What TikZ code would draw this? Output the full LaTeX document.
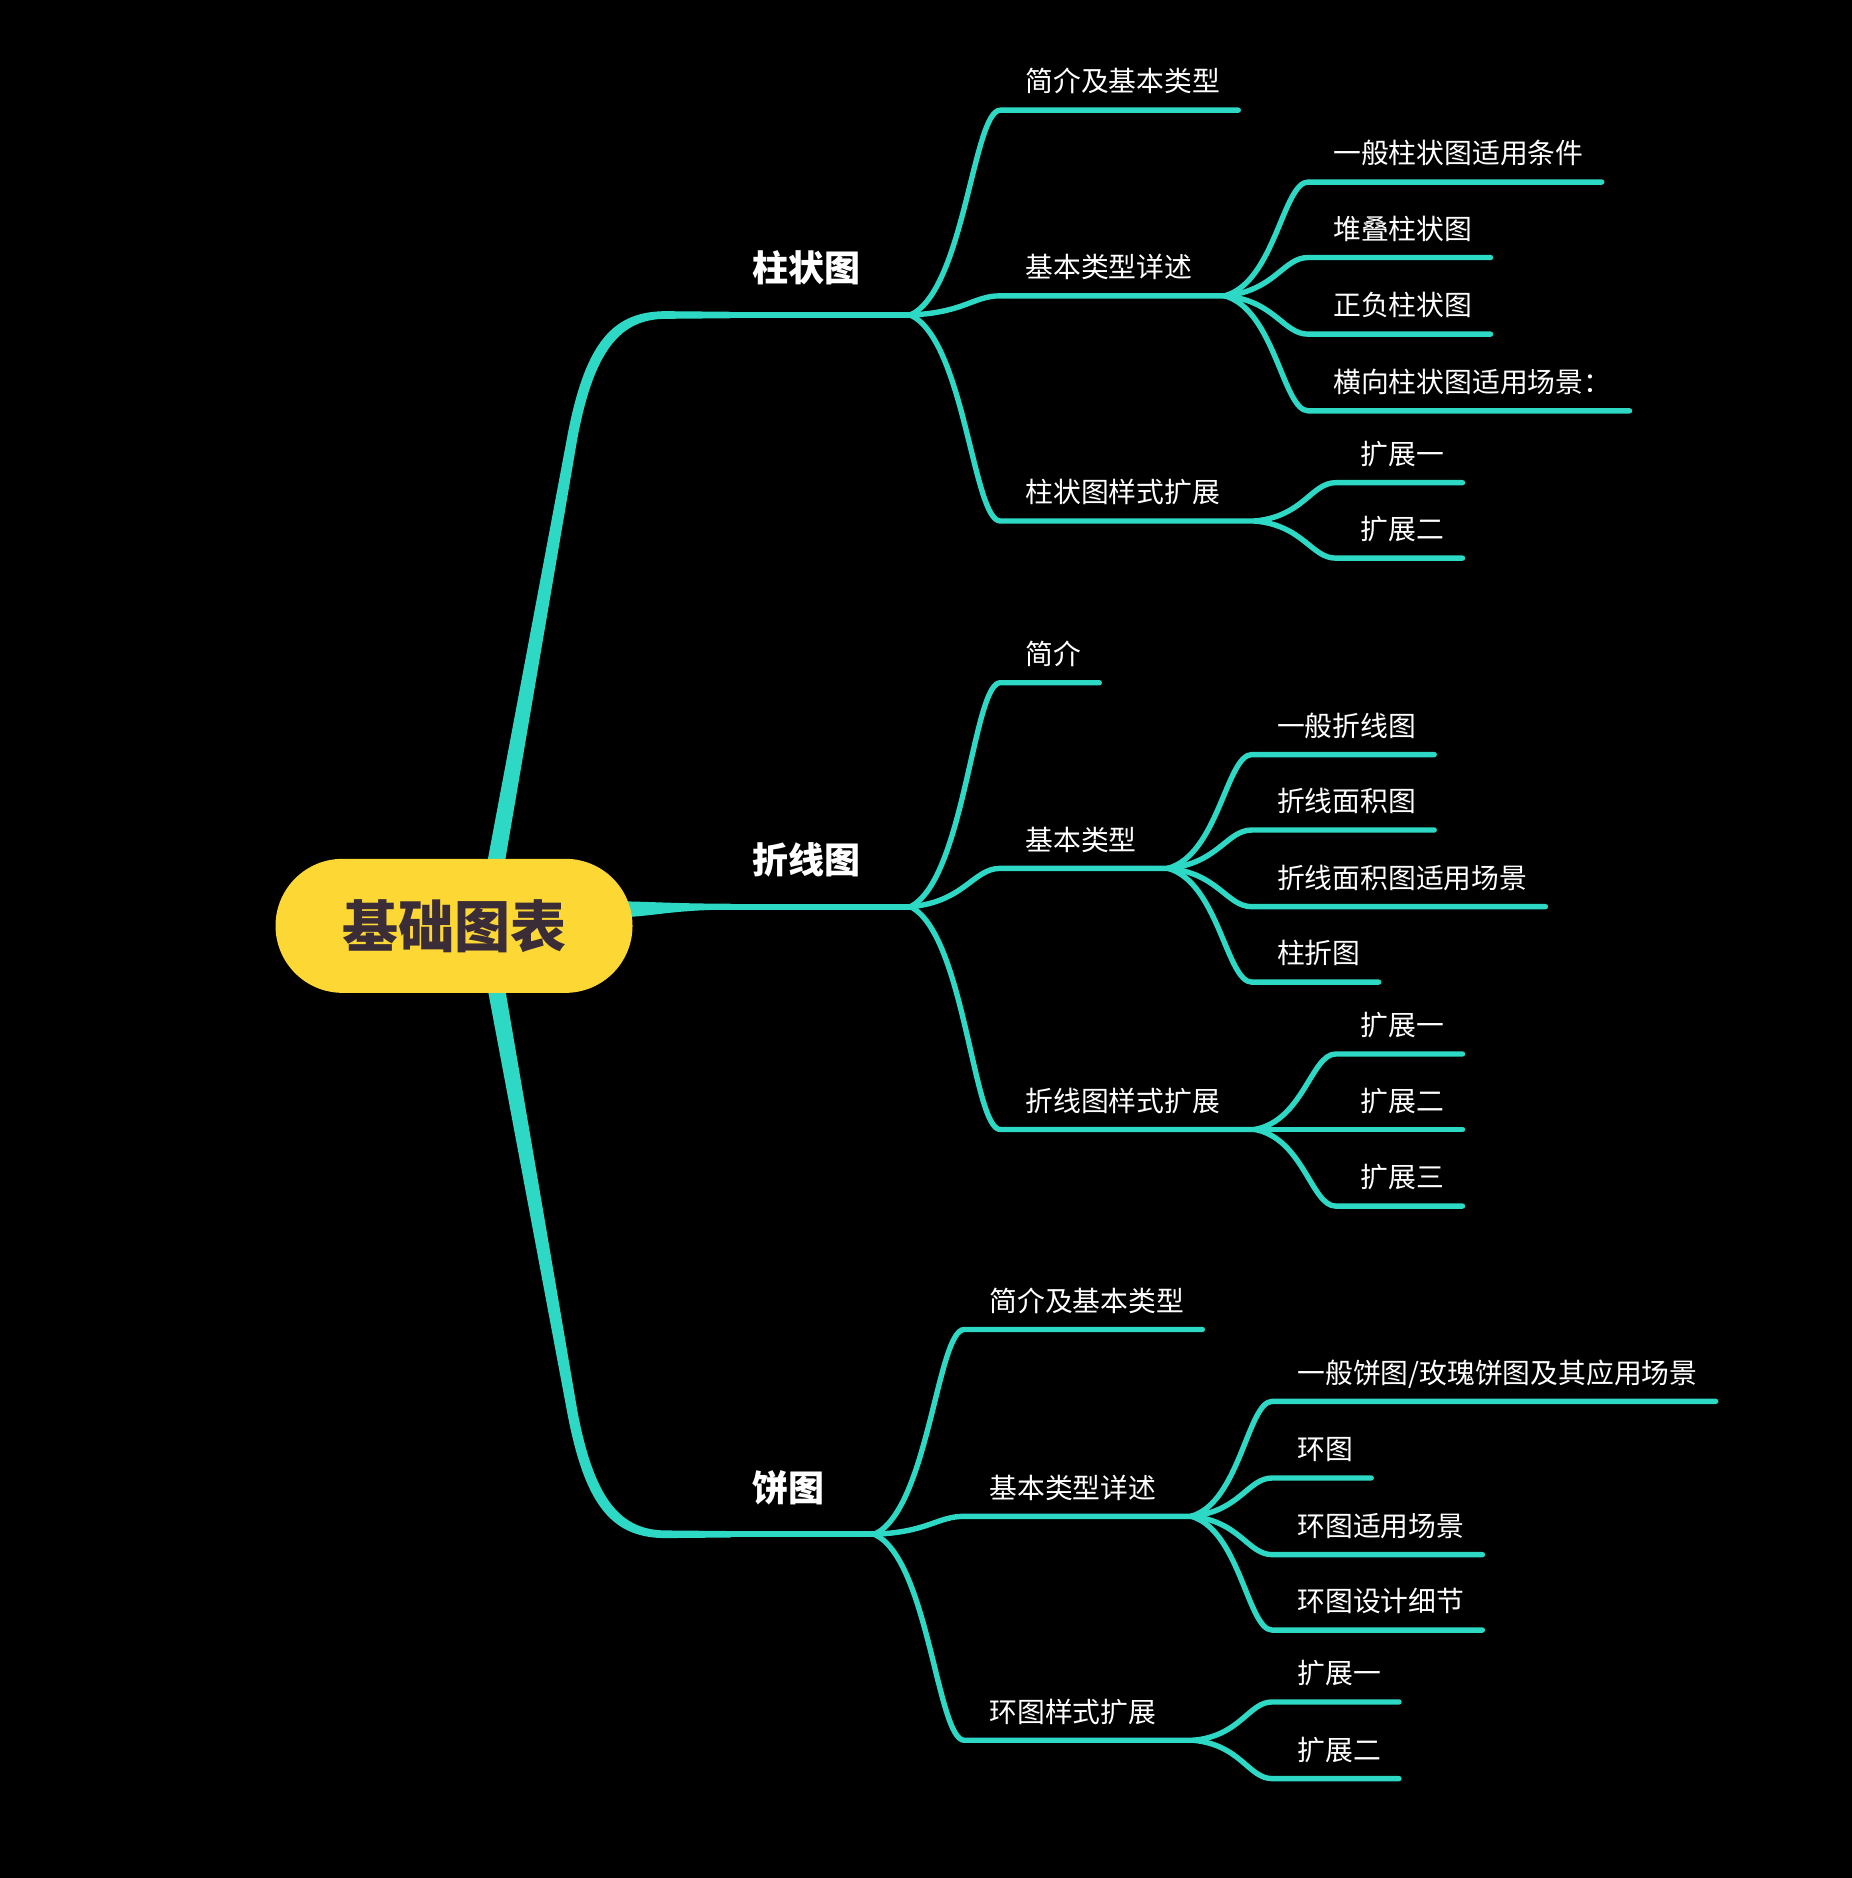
\documentclass[tikz,border=0pt]{standalone}
\usepackage{fontspec}
\setmainfont{Noto Sans CJK SC}
\usetikzlibrary{calc}
\definecolor{tl}{HTML}{2DD9C5}
\definecolor{rootfill}{HTML}{FDD835}
\definecolor{roottext}{HTML}{3A2D38}
\tikzset{
  rootbox/.style={fill=rootfill, text=roottext, rounded corners=67pt, minimum width=357pt, minimum height=134pt, inner sep=0pt, font=\bfseries\fontsize{56pt}{60pt}\selectfont},
  lvone/.style={anchor=south west, text=white, font=\bfseries\fontsize{36pt}{40pt}\selectfont, inner xsep=50pt, inner ysep=0pt, text height=28pt, text depth=33pt},
  lvtwo/.style={anchor=south west, text=white, font=\fontsize{27.8pt}{32pt}\selectfont, inner xsep=25pt, inner ysep=0pt, text height=22pt, text depth=18pt},
  connone/.style={draw=tl, line width=6pt, line cap=round},
  conn/.style={draw=tl, line width=5.4pt, line cap=round},
  branch/.style={to path={let \p1=(\tikztostart), \p2=(\tikztotarget) in
     .. controls ({\x1+0.6*(\x2-\x1)},{\y1+0.12*(\y2-\y1)}) and ({\x2-0.3*(\x2-\x1)},\y2) .. (\tikztotarget)}},
}
\begin{document}
\begin{tikzpicture}[x=1.1979pt,y=-1.1977pt]
\fill[black] (0,0) rectangle (1546,1568);
\useasboundingbox (0,0) rectangle (1546,1568);

% level-1 nodes
\node[lvone] (A) at (586,263) {柱状图};
\node[lvone] (B) at (586,757) {折线图};
\node[lvone] (C) at (586,1281) {饼图};

% trunks from root (tapered)
\fill[tl] (403,740) -- (474,362) .. controls (489,285) and (512,259.8) .. (556,259.8) -- (610,260.3) -- (610,265.7)
  -- (556,266.2) .. controls (518,266.2) and (496,292) .. (482,366) -- (418,740) -- cycle;
\fill[tl] (403,804) -- (474,1182) .. controls (489,1259) and (512,1284.2) .. (556,1284.2) -- (610,1283.7) -- (610,1278.3)
  -- (556,1277.8) .. controls (518,1277.8) and (496,1252) .. (482,1178) -- (418,804) -- cycle;
\fill[tl] (512,752.5) .. controls (540,752.5) and (560,754.5) .. (610,754.5) -- (610,759.5)
  .. controls (560,759.5) and (542,766) .. (512,766) -- cycle;

\draw[connone] (A.south west) -- (A.south east);
\draw[connone] (B.south west) -- (B.south east);
\draw[connone] (C.south west) -- (C.south east);

% ---------- 柱状图 ----------
\node[lvtwo] (A1) at (835,92) {简介及基本类型};
\node[lvtwo] (A2) at (835,247) {基本类型详述};
\node[lvtwo] (A3) at (835,435) {柱状图样式扩展};
\coordinate (fA2) at ($(A2.south east)+(6,0)$);
\coordinate (fA3) at ($(A3.south east)+(8,0)$);
\draw[conn] (A.south east) to[branch] (A1.south west) -- ([xshift=-7pt]A1.south east);
\draw[conn] (A.south east) to[branch] (A2.south west) -- (fA2);
\draw[conn] (A.south east) to[branch] (A3.south west) -- (fA3);

\node[lvtwo] (A21) at (1092,152) {一般柱状图适用条件};
\node[lvtwo] (A22) at (1092,215) {堆叠柱状图};
\node[lvtwo] (A23) at (1092,279) {正负柱状图};
\node[lvtwo] (A24) at (1092,343) {横向柱状图适用场景：};
\foreach \k in {A21,A22,A23,A24}
  \draw[conn] (fA2) to[branch] (\k.south west) -- ([xshift=-7pt]\k.south east);

\node[lvtwo] (A31) at (1115,403) {扩展一};
\node[lvtwo] (A32) at (1115,466) {扩展二};
\foreach \k in {A31,A32}
  \draw[conn] (fA3) to[branch] (\k.south west) -- ([xshift=-7pt]\k.south east);

% ---------- 折线图 ----------
\node[lvtwo] (B1) at (835,570) {简介};
\node[lvtwo] (B2) at (835,725) {基本类型};
\node[lvtwo] (B3) at (835,943) {折线图样式扩展};
\coordinate (fB2) at ($(B2.south east)+(5,0)$);
\coordinate (fB3) at ($(B3.south east)+(8,0)$);
\draw[conn] (B.south east) to[branch] (B1.south west) -- ([xshift=-7pt]B1.south east);
\draw[conn] (B.south east) to[branch] (B2.south west) -- (fB2);
\draw[conn] (B.south east) to[branch] (B3.south west) -- (fB3);

\node[lvtwo] (B21) at (1045,630) {一般折线图};
\node[lvtwo] (B22) at (1045,693) {折线面积图};
\node[lvtwo] (B23) at (1045,757) {折线面积图适用场景};
\node[lvtwo] (B24) at (1045,820) {柱折图};
\foreach \k in {B21,B22,B23,B24}
  \draw[conn] (fB2) to[branch] (\k.south west) -- ([xshift=-7pt]\k.south east);

\node[lvtwo] (B31) at (1115,880) {扩展一};
\node[lvtwo] (B32) at (1115,943) {扩展二};
\node[lvtwo] (B33) at (1115,1007) {扩展三};
\foreach \k in {B31,B32,B33}
  \draw[conn] (fB3) to[branch] (\k.south west) -- ([xshift=-7pt]\k.south east);

% ---------- 饼图 ----------
\node[lvtwo] (C1) at (805,1110) {简介及基本类型};
\node[lvtwo] (C2) at (805,1266) {基本类型详述};
\node[lvtwo] (C3) at (805,1453) {环图样式扩展};
\coordinate (fC2) at ($(C2.south east)+(8,0)$);
\coordinate (fC3) at ($(C3.south east)+(10,0)$);
\draw[conn] (C.south east) to[branch] (C1.south west) -- ([xshift=-7pt]C1.south east);
\draw[conn] (C.south east) to[branch] (C2.south west) -- (fC2);
\draw[conn] (C.south east) to[branch] (C3.south west) -- (fC3);

\node[lvtwo] (C21) at (1062,1170) {一般饼图/玫瑰饼图及其应用场景};
\node[lvtwo] (C22) at (1062,1234) {环图};
\node[lvtwo] (C23) at (1062,1298) {环图适用场景};
\node[lvtwo] (C24) at (1062,1361) {环图设计细节};
\foreach \k in {C21,C22,C23,C24}
  \draw[conn] (fC2) to[branch] (\k.south west) -- ([xshift=-7pt]\k.south east);

\node[lvtwo] (C31) at (1062,1421) {扩展一};
\node[lvtwo] (C32) at (1062,1485) {扩展二};
\foreach \k in {C31,C32}
  \draw[conn] (fC3) to[branch] (\k.south west) -- ([xshift=-7pt]\k.south east);

% root
\node[rootbox] (root) at (379,773) {基础图表};
\end{tikzpicture}
\end{document}
